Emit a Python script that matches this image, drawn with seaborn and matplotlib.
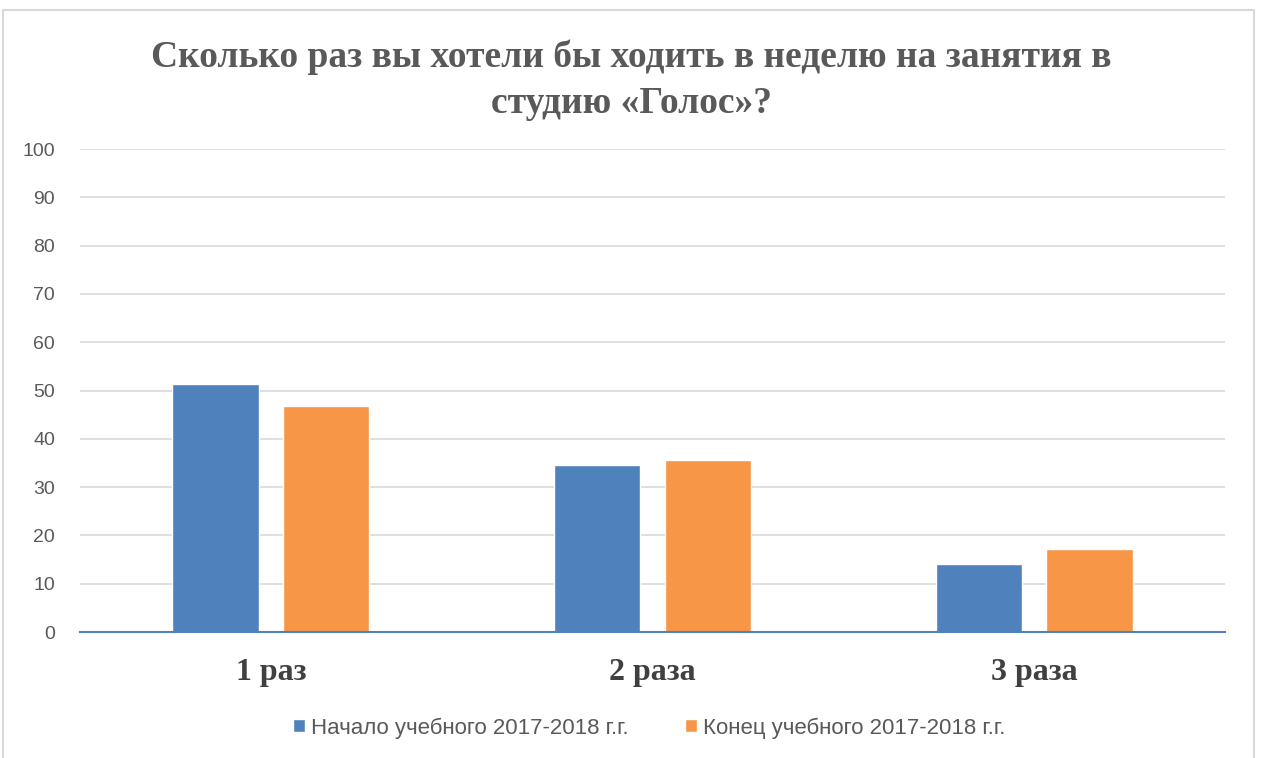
import pandas as pd
import matplotlib
matplotlib.use("Agg")
import matplotlib.pyplot as plt
from matplotlib.patches import Rectangle
import seaborn as sns

categories = ["1 раз", "2 раза", "3 раза"]
series_names = ["Начало учебного 2017-2018 г.г.", "Конец учебного 2017-2018 г.г."]
start_values = [51.3, 34.5, 14.0]
end_values = [46.8, 35.6, 17.2]
colors = ["#4f81bd", "#f79646"]

df = pd.DataFrame({
    "category": categories * 2,
    "series": [series_names[0]] * 3 + [series_names[1]] * 3,
    "value": start_values + end_values,
})

sns.set_theme(style="white")
plt.rcParams["font.family"] = ["Liberation Sans", "DejaVu Sans"]

fig = plt.figure(figsize=(12.63, 7.58), dpi=100)
ax = fig.add_axes([0.0633, 0.1662, 0.9067, 0.6372])

# light frame around the chart
fig.patches.append(Rectangle((3 / 1263, -0.05), 1251 / 1263, 1.05 - 10 / 758,
                             transform=fig.transFigure, fill=False,
                             edgecolor="#d9d9d9", linewidth=1.5))

sns.barplot(data=df, x="category", y="value", hue="series", palette=colors,
            width=0.58, gap=0.22, ax=ax, legend=True, saturation=1)

ax.set_ylim(0, 100)
ax.set_yticks(range(0, 101, 10))
ax.set_xlim(-0.5, 2.5)
ax.yaxis.grid(True, color="#d9d9d9", linewidth=1.2)
ax.set_axisbelow(True)
for side in ["top", "right", "left"]:
    ax.spines[side].set_visible(False)
ax.spines["bottom"].set_color("#4f81bd")
ax.spines["bottom"].set_linewidth(1.5)
ax.set_xlabel("")
ax.set_ylabel("")
ax.tick_params(axis="y", length=0, pad=18, labelsize=14, labelcolor="#595959")
ax.tick_params(axis="x", length=0, pad=19)
for lbl in ax.get_xticklabels():
    lbl.set_fontfamily("Liberation Serif")
    lbl.set_fontweight("bold")
    lbl.set_fontsize(23)
    lbl.set_color("#404040")

fig.suptitle("Сколько раз вы хотели бы ходить в неделю на занятия в\nстудию «Голос»?",
             y=0.948, fontsize=27, fontweight="bold", color="#595959",
             family="Liberation Serif", linespacing=1.42)

handles, labels = ax.get_legend_handles_labels()
ax.legend(handles, labels, loc="center", bbox_to_anchor=(0.514, 1 - 728 / 758),
          bbox_transform=fig.transFigure, ncol=2, frameon=False,
          fontsize=16, labelcolor="#595959", handlelength=0.55, handleheight=0.55,
          handletextpad=0.3, columnspacing=2.5)

fig.savefig("out.png", dpi=100)
